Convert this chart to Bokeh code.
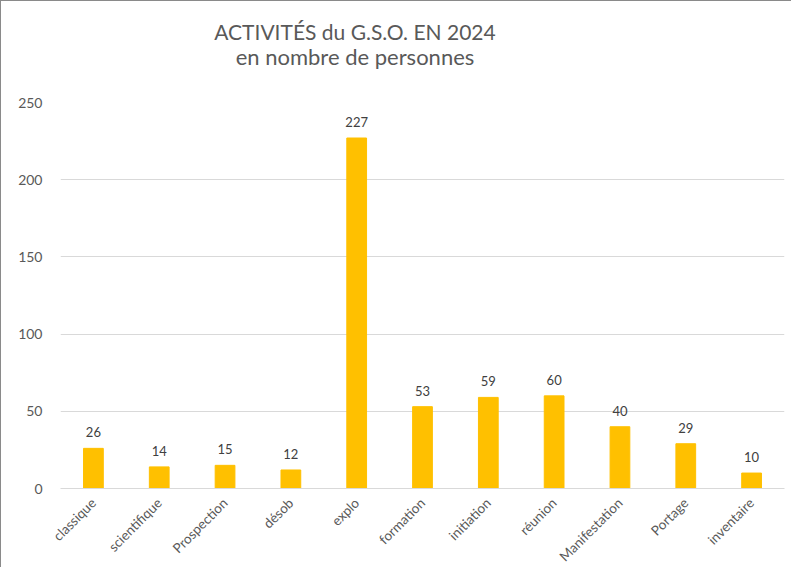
import math
from bokeh.plotting import figure
from bokeh.models import ColumnDataSource, Range1d, FixedTicker, Div
from bokeh.layouts import column
from bokeh.core.properties import value
from bokeh.embed import file_html
from bokeh.resources import INLINE

categories = ["classique", "scientifique", "Prospection", "désob", "explo", "formation",
              "initiation", "réunion", "Manifestation", "Portage", "inventaire"]
counts = [26, 14, 15, 12, 227, 53, 59, 60, 40, 29, 10]
y_ticks = [0, 50, 100, 150, 200, 250]
title_line1 = "ACTIVITÉS du G.S.O. EN 2024"
title_line2 = "en nombre de personnes"

FONT = "Lato"
BAR = "#FFC000"
TXT = "#595959"

src = ColumnDataSource(dict(cat=categories, n=counts, lbl=[str(v) for v in counts]))

title = Div(text=f"{title_line1}<br><span style='font-size:22px'>{title_line2}</span>",
            width=708, height=90, margin=(0, 0, 0, 0),
            styles={"font-family": FONT, "font-size": "21px", "line-height": "25px",
                    "color": TXT, "text-align": "center", "padding-top": "18px",
                    "box-sizing": "border-box", "width": "708px"})

p = figure(x_range=categories, y_range=Range1d(0, 250), width=790, height=497,
           output_backend="svg", toolbar_location=None,
           min_border_left=59, min_border_right=7, min_border_top=11, min_border_bottom=100)
p.margin = (0, 0, 0, 0)

p.vbar(x="cat", top="n", width=0.3, source=src, color=BAR)
p.text(x="cat", y="n", text="lbl", source=src, text_align="center", text_baseline="bottom",
       y_offset=-11, text_font=value(FONT), text_font_size="13px", text_color="#404040")

p.outline_line_color = None
p.xgrid.grid_line_color = None
p.ygrid.grid_line_color = "#D9D9D9"
p.ygrid.grid_line_width = 1
p.yaxis.ticker = FixedTicker(ticks=y_ticks)

for ax in (p.xaxis, p.yaxis):
    ax.axis_line_color = None
    ax.major_tick_line_color = None
    ax.minor_tick_line_color = None
    ax.major_label_text_font = FONT
    ax.major_label_text_color = TXT
p.yaxis.major_label_text_font_size = "14px"
p.xaxis.major_label_text_font_size = "13.5px"
p.xaxis.axis_line_color = "#D9D9D9"
p.yaxis.major_label_standoff = 12
p.xaxis.major_label_standoff = 6
p.xaxis.major_label_orientation = math.pi / 4

layout = column(title, p, spacing=0, margin=(0, 0, 0, 0),
                styles={"border-left": "1px solid #8a8a8a", "border-top": "1px solid #8a8a8a"})

html = file_html(layout, INLINE)
html = html.replace("</head>", "<style>html,body{overflow:hidden}</style></head>", 1)
open("out.html", "w").write(html)
